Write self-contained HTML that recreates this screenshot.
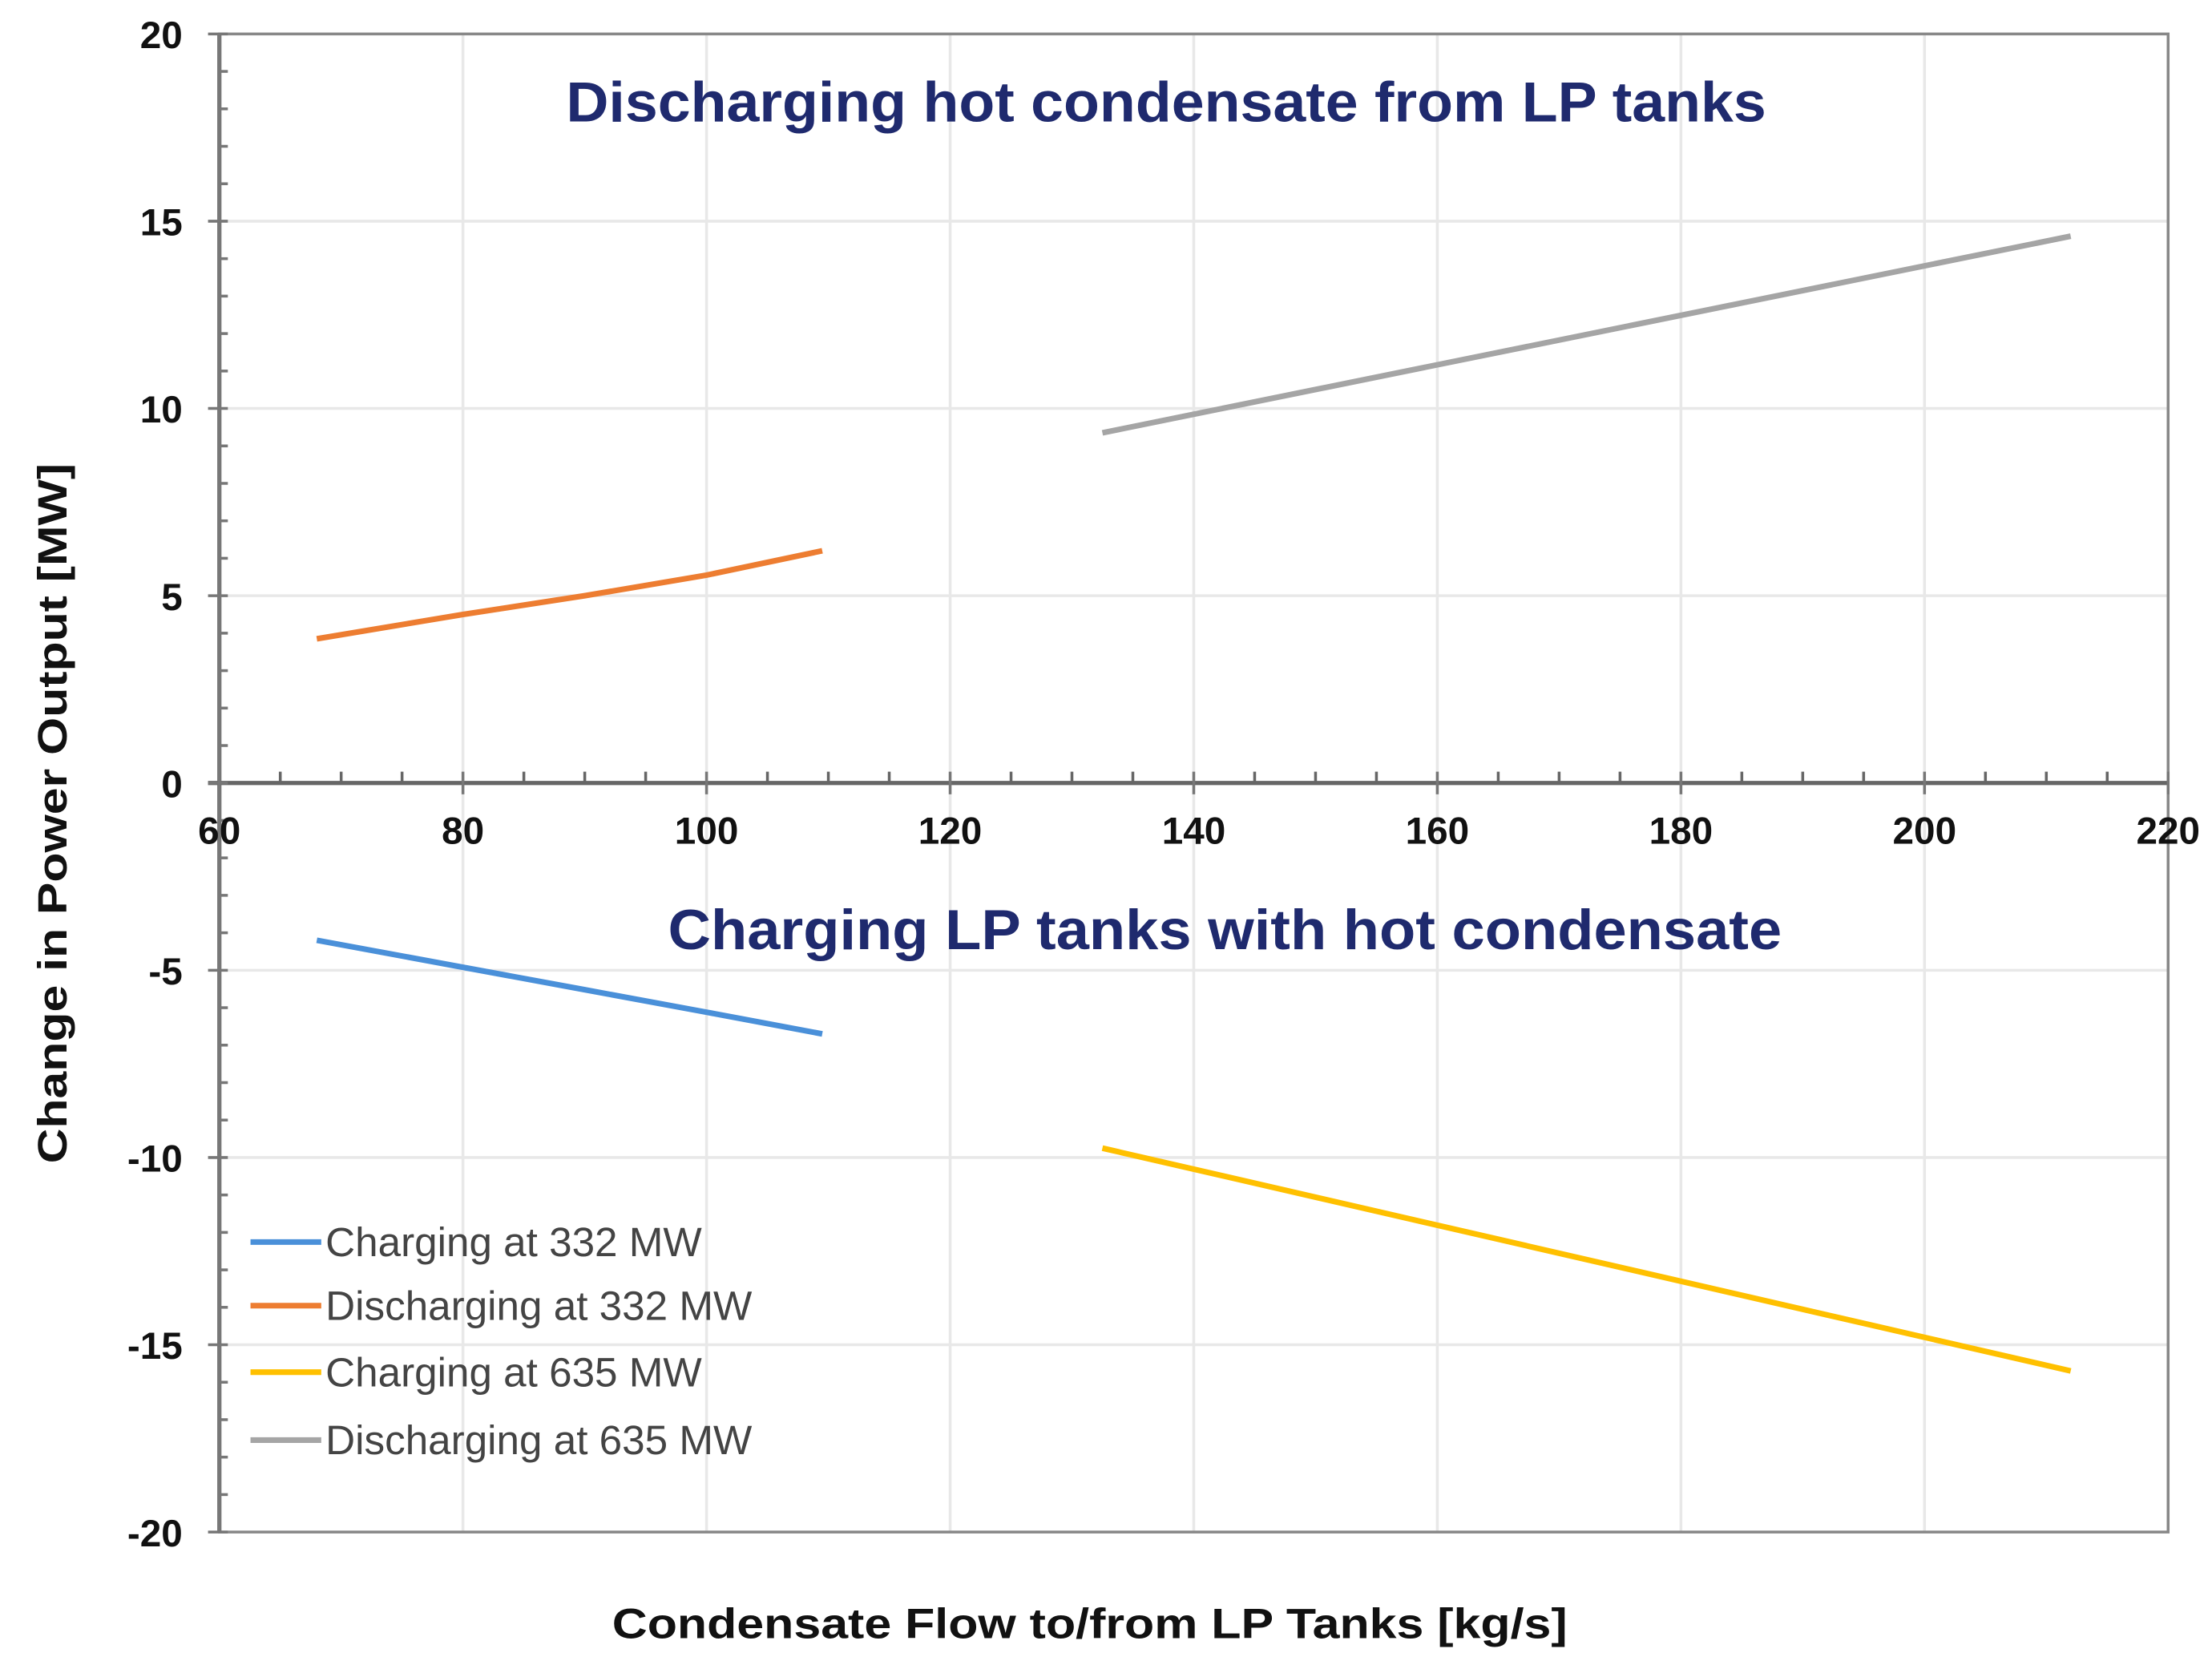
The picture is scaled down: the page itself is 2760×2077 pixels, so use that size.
<!DOCTYPE html>
<html><head><meta charset="utf-8"><style>
html,body{margin:0;padding:0;background:#fff;}
svg{display:block;}
text{font-family:"Liberation Sans",Arial,sans-serif;}
</style></head><body>
<svg id="chart" width="2760" height="2077" viewBox="0 0 1563 1177" preserveAspectRatio="none" xmlns="http://www.w3.org/2000/svg">
<g id="grid"></g>
<rect x="155" y="24" width="1377" height="1059" fill="none" stroke="#888" stroke-width="2"/>
<g id="axes"></g>
<g id="series"></g>
<text x="400" y="86" font-size="40" fill="#1f2a6e" font-weight="bold" textLength="848" lengthAdjust="spacingAndGlyphs">Discharging hot condensate from LP tanks</text>
<text x="472" y="671" font-size="40" fill="#1f2a6e" font-weight="bold" textLength="787" lengthAdjust="spacingAndGlyphs">Charging LP tanks with hot condensate</text>
<text transform="translate(47,575) rotate(-90)" text-anchor="middle" font-size="29" font-weight="bold" fill="#111" textLength="495" lengthAdjust="spacingAndGlyphs">Change in Power Output [MW]</text>
<text x="770" y="1158" text-anchor="middle" font-size="30" font-weight="bold" fill="#111" textLength="675" lengthAdjust="spacingAndGlyphs">Condensate Flow to/from LP Tanks [kg/s]</text>
<g id="legend"></g>
</svg>
<script>
const xTicks=[60,80,100,120,140,160,180,200,220];
const yTicks=[-20,-15,-10,-5,0,5,10,15,20];
const seriesNames=["Charging at 332 MW","Discharging at 332 MW","Charging at 635 MW","Discharging at 635 MW"];
const seriesColors=["#4a90d9","#ed7d31","#ffc000","#a5a5a5"];
const c332X=[68,80,90,100,109.5];
const chg332Y=[-4.2,-4.92,-5.52,-6.12,-6.7];
const dis332Y=[3.85,4.5,5.0,5.55,6.2];
const c635X=[132.5,212];
const chg635Y=[-9.75,-15.7];
const dis635Y=[9.35,14.6];
const NS="http://www.w3.org/2000/svg";
const X0=155,X1=1532,Y0=1083,Y1=24;
function sx(v){return X0+(v-60)/(220-60)*(X1-X0);}
function sy(v){return Y0-(v+20)/40*(Y0-Y1);}
function mk(t,a,p){const e=document.createElementNS(NS,t);for(const k in a)e.setAttribute(k,a[k]);p.appendChild(e);return e;}
const grid=document.getElementById('grid'),axes=document.getElementById('axes'),ser=document.getElementById('series'),leg=document.getElementById('legend');
xTicks.forEach(v=>{if(v===60||v===220)return;const l=mk('line',{x1:sx(v),x2:sx(v),y1:Y1,y2:Y0,stroke:'#e8e8e8','stroke-width':2},grid);

});
yTicks.forEach(v=>{if(v===20||v===-20||v===0)return;const l=mk('line',{x1:X0,x2:X1,y1:sy(v),y2:sy(v),stroke:'#e8e8e8','stroke-width':2},grid);

});
mk('line',{x1:X0,x2:X0,y1:Y1,y2:Y0,stroke:'#777','stroke-width':3},axes);
mk('line',{x1:X0-8,x2:X1,y1:sy(0),y2:sy(0),stroke:'#666','stroke-width':3},axes);
for(let v=-20;v<=20;v++){if(v%5===0)mk('line',{x1:X0-8,x2:X0+6,y1:sy(v),y2:sy(v),stroke:'#777','stroke-width':2},axes);else mk('line',{x1:X0,x2:X0+6,y1:sy(v),y2:sy(v),stroke:'#777','stroke-width':2},axes);}
for(let v=60;v<=220;v+=5){if(v%20===0)mk('line',{x1:sx(v),x2:sx(v),y1:sy(0)-8,y2:sy(0)+8,stroke:'#777','stroke-width':2},axes);else mk('line',{x1:sx(v),x2:sx(v),y1:sy(0)-8,y2:sy(0),stroke:'#666','stroke-width':2},axes);}
xTicks.forEach(v=>{const t=mk('text',{x:sx(v),y:sy(0)+43,'text-anchor':'middle','font-size':27,'font-weight':'bold',fill:'#111'},axes);t.textContent=v;

});
yTicks.forEach(v=>{const t=mk('text',{x:X0-26,y:sy(v)+10,'text-anchor':'end','font-size':27,'font-weight':'bold',fill:'#111'},axes);t.textContent=v;

});
function line(xs,ys,col,name){const p=mk('polyline',{points:xs.map((x,i)=>sx(x)+','+sy(ys[i])).join(' '),fill:'none',stroke:col,'stroke-width':4},ser);

}
line(c332X,chg332Y,seriesColors[0],'line-charging-332');
line(c332X,dis332Y,seriesColors[1],'line-discharging-332');
line(c635X,chg635Y,seriesColors[2],'line-charging-635');
line(c635X,dis635Y,seriesColors[3],'line-discharging-635');
const legY=[878,923,970,1018];
seriesNames.forEach((n,i)=>{mk('line',{x1:177,x2:227,y1:legY[i],y2:legY[i],stroke:seriesColors[i],'stroke-width':4},leg);
const t=mk('text',{x:230,y:legY[i]+10,'font-size':29,fill:'#444'},leg);t.textContent=n;

});
</script>
</body></html>
